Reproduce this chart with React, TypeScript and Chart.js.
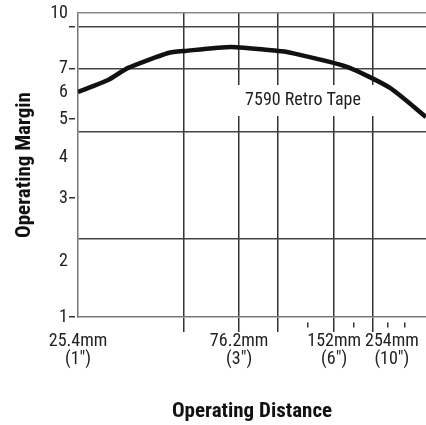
import React, { useEffect, useRef } from 'react';
import { Chart, LinearScale, registerables } from 'chart.js';

// ---- data ----
const distanceMm = [25.4, 32.6, 37.4, 47.0, 51.3, 72.5, 101.6, 109.2, 168.9, 241.3, 304.8];
const marginValues = [6.04, 6.54, 7.05, 7.76, 7.86, 8.05, 7.86, 7.81, 7.1, 6.21, 5.08];
const seriesName = '7590 Retro Tape';

const xLabelValues = [25.4, 76.2, 152.4, 254];
const xLabelMm = ['25.4mm', '76.2mm', '152mm', '254mm'];
const xLabelInch = ['(1\u2033)', '(3\u2033)', '(6\u2033)', '(10\u2033)'];
const xMajorTicks = [50.8, 76.2, 101.6, 152.4, 203.2];
const xMinorTicks = [127, 177.8, 228.6, 279.4];

const yLabelValues = [1, 2, 3, 4, 5, 6, 7, 10];
const yMarkedTicks = [1, 3, 5, 7, 9];
const yGridValues = [2.36, 4.66, 7, 9];
const yTopValue = 10;

// ---- axis warps of the printed chart (value -> fraction of axis) ----
const X_WARP: number[][] = [
  [25.4, 0], [50.8, 0.305], [76.2, 0.463], [101.6, 0.575], [127, 0.661], [152.4, 0.736],
  [177.8, 0.793], [203.2, 0.848], [228.6, 0.891], [254, 0.902], [279.4, 0.94], [304.8, 1],
];
const Y_WARP: number[][] = [
  [1, 0], [2, 0.181], [3, 0.391], [4, 0.526], [5, 0.651], [6, 0.737], [7, 0.816], [9, 0.954], [10, 1],
];

function interp(knots: number[][], v: number, a: number, b: number) {
  let i = 0;
  while (i < knots.length - 2 && v > knots[i + 1][a]) i++;
  const k0 = knots[i], k1 = knots[i + 1];
  const t = (v - k0[a]) / (k1[a] - k0[a]);
  return k0[b] + t * (k1[b] - k0[b]);
}

function makeWarpScale(id: string, knots: number[][]) {
  class WarpScale extends LinearScale {
    static id = id;
    static defaults = (LinearScale as any).defaults;
    getPixelForValue(value: number) {
      if (value === null || value === undefined || isNaN(value)) return NaN;
      return this.getPixelForDecimal(interp(knots, value, 0, 1));
    }
    getValueForPixel(pixel: number) {
      return interp(knots, this.getDecimalForPixel(pixel), 1, 0);
    }
  }
  return WarpScale;
}

Chart.register(...registerables, makeWarpScale('warpX', X_WARP), makeWarpScale('warpY', Y_WARP));

const FONT = "'Liberation Sans Narrow', 'Arial Narrow', 'Roboto Condensed', 'DejaVu Sans Condensed', sans-serif";
const near = (list: number[], v: number) => list.some((x) => Math.abs(x - v) < 0.01);
const CLEAR = 'rgba(0,0,0,0)';

const labelPlugin = {
  id: 'seriesLabel',
  beforeDatasetsDraw(chart: any) {
    const { ctx, chartArea } = chart;
    const l = chartArea.left, t = chartArea.top;
    ctx.save();
    ctx.fillStyle = '#ffffff';
    ctx.fillRect(l + 118, t + 72, 196, 31);
    ctx.fillStyle = '#222';
    ctx.font = `18px ${FONT}`;
    ctx.textAlign = 'center';
    ctx.textBaseline = 'middle';
    ctx.fillText(seriesName, l + 225, t + 87);
    ctx.restore();
  },
};

export default function App() {
  const ref = useRef<HTMLCanvasElement>(null);
  useEffect(() => {
    if (!ref.current) return;
    Chart.defaults.font.family = FONT;
    const chart = new Chart(ref.current, {
      type: 'line',
      data: {
        datasets: [
          {
            label: seriesName,
            data: distanceMm.map((x, i) => ({ x, y: marginValues[i] })),
            borderColor: '#111',
            borderWidth: 4.5,
            pointRadius: 0,
            tension: 0.2,
            fill: false,
          },
        ],
      },
      options: {
        animation: false,
        responsive: true,
        maintainAspectRatio: false,
        layout: { padding: { top: 13, left: 0, right: 0, bottom: 0 } },
        plugins: { legend: { display: false }, tooltip: { enabled: false } },
        scales: {
          x: {
            type: 'warpX' as any,
            position: 'bottom',
            min: 25.4,
            max: 304.8,
            afterBuildTicks: (s: any) => {
              const vals = [...new Set([...xLabelValues, ...xMajorTicks, ...xMinorTicks])].sort((a, b) => a - b);
              s.ticks = vals.map((v) => ({ value: v }));
            },
            afterFit: (s: any) => { s.height = 108; },
            grid: {
              color: (c: any) => (near(xMajorTicks, c.tick?.value) ? '#333' : CLEAR),
              lineWidth: 1.5,
              drawTicks: true,
              tickLength: 15,
              tickWidth: 1.5,
              tickColor: (c: any) =>
                near(xMajorTicks, c.tick?.value) || near(xMinorTicks, c.tick?.value) ? '#333' : CLEAR,
              tickBorderDash: (c: any) => (near(xMinorTicks, c.tick?.value) ? [0, 5, 5, 100] : []),
            } as any,
            border: { display: true, color: '#777', width: 1.5 },
            ticks: {
              autoSkip: false,
              maxRotation: 0,
              minRotation: 0,
              padding: 0,
              color: '#222',
              font: { size: 18, lineHeight: 1 },
              callback: (v: any) => {
                const i = xLabelValues.findIndex((x) => Math.abs(x - Number(v)) < 0.01);
                return i >= 0 ? [xLabelMm[i], xLabelInch[i]] : '';
              },
            },
            title: {
              display: true,
              text: 'Operating Distance',
              color: '#111',
              font: { size: 21, weight: 'bold', lineHeight: 1 },
              padding: { top: 0, bottom: 2.5 },
            },
          },
          y: {
            type: 'warpY' as any,
            min: 1,
            max: 10,
            afterBuildTicks: (s: any) => {
              const vals = [...new Set([...yLabelValues, ...yMarkedTicks, ...yGridValues])].sort((a, b) => a - b);
              s.ticks = vals.map((v) => ({ value: v }));
            },
            afterFit: (s: any) => { s.width = 78; },
            grid: {
              color: (c: any) =>
                near(yGridValues, c.tick?.value) ? '#444' : Math.abs((c.tick?.value ?? 0) - yTopValue) < 0.01 ? '#888' : CLEAR,
              lineWidth: 1.5,
              drawTicks: true,
              tickLength: 9,
              tickWidth: 1.5,
              tickColor: (c: any) => (near(yMarkedTicks, c.tick?.value) ? '#333' : CLEAR),
              tickBorderDash: [6, 10],
            } as any,
            border: { display: true, color: '#777', width: 1.5 },
            ticks: {
              autoSkip: false,
              padding: 1,
              color: '#222',
              font: { size: 18 },
              callback: (v: any) => (near(yLabelValues, Number(v)) ? String(Number(v)) : ''),
            },
            title: {
              display: true,
              text: 'Operating Margin',
              color: '#111',
              font: { size: 21, weight: 'bold', lineHeight: 1 },
              padding: { top: 14.5, bottom: 0 },
            },
          },
        },
      },
      plugins: [labelPlugin],
    });
    return () => chart.destroy();
  }, []);

  return (
    <div style={{ position: 'absolute', left: 0, top: 0, width: 426, height: 425, background: '#fff' }}>
      <canvas ref={ref} />
    </div>
  );
}
